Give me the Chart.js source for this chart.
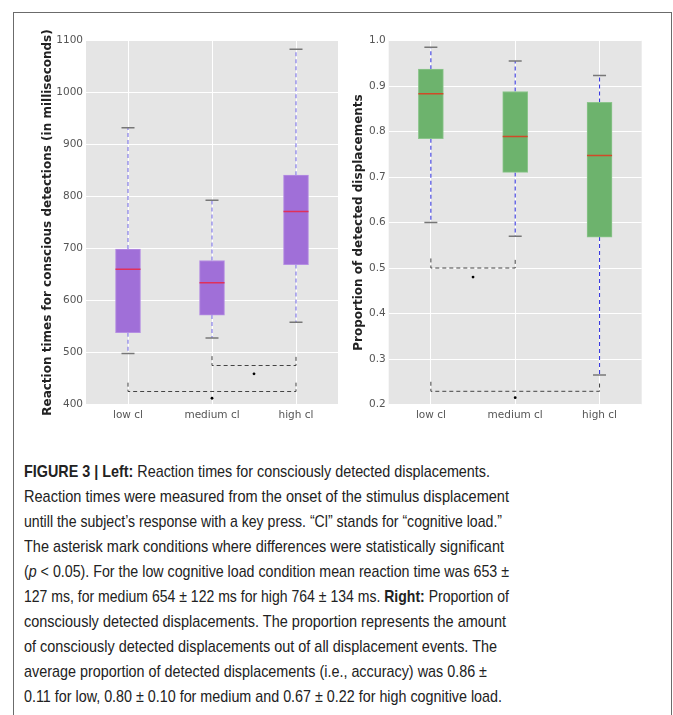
<!DOCTYPE html>
<html>
<head>
<meta charset="utf-8">
<script src="https://cdn.jsdelivr.net/npm/chart.js@4.4.0/dist/chart.umd.min.js"></script>
<style>
  html, body { margin: 0; padding: 0; background: #fff; }
  body { width: 673px; height: 715px; position: relative; overflow: hidden; }
  #frame {
    position: absolute; left: 13px; top: 12px; width: 657px; height: 720px;
    border: 1.5px solid #6b6b6b;
  }
  canvas { position: absolute; }
  #rtChart { left: 0; top: 20px; }
  #propChart { left: 345px; top: 20px; }
  #caption {
    position: absolute; left: 24px; top: 459px;
    font-family: "Liberation Sans", sans-serif;
    font-size: 17px; line-height: 25px; color: #222;
  }
  #caption div { white-space: nowrap; transform-origin: 0 0; width: max-content; }
</style>
</head>
<body>
<div id="frame"></div>
<canvas id="rtChart" width="352" height="410"></canvas>
<canvas id="propChart" width="328" height="410"></canvas>
<div id="caption">
  <div><b>FIGURE 3 | Left:</b> Reaction times for consciously detected displacements.</div>
  <div>Reaction times were measured from the onset of the stimulus displacement</div>
  <div>untill the subject’s response with a key press. “Cl” stands for “cognitive load.”</div>
  <div>The asterisk mark conditions where differences were statistically significant</div>
  <div>(<i>p</i> &lt; 0.05). For the low cognitive load condition mean reaction time was 653 ±</div>
  <div>127 ms, for medium 654 ± 122 ms for high 764 ± 134 ms. <b>Right:</b> Proportion of</div>
  <div>consciously detected displacements. The proportion represents the amount</div>
  <div>of consciously detected displacements out of all displacement events. The</div>
  <div>average proportion of detected displacements (i.e., accuracy) was 0.86 ±</div>
  <div>0.11 for low, 0.80 ± 0.10 for medium and 0.67 ± 0.22 for high cognitive load.</div>
</div>
<script>
// categories
const categories = ['low cl', 'medium cl', 'high cl'];

// left: reaction times (ms)
const rtMin    = [498, 528, 558];
const rtQ1     = [538, 572, 669];
const rtMedian = [660, 634, 771];
const rtQ3     = [699, 677, 841];
const rtMax    = [932, 793, 1083];
const rtTicks  = [400, 500, 600, 700, 800, 900, 1000, 1100];
const rtBrackets = [
  { from: 1, to: 2, y: 475, tip: 493 },
  { from: 0, to: 2, y: 425, tip: 442 }
];
const rtStars = [{ x: 1.5, y: 459 }, { x: 1, y: 412 }];

// right: proportion of detected displacements
const propMin    = [0.600, 0.570, 0.265];
const propQ1     = [0.784, 0.710, 0.568];
const propMedian = [0.883, 0.789, 0.747];
const propQ3     = [0.937, 0.888, 0.864];
const propMax    = [0.985, 0.955, 0.923];
const propTicks  = [0.2, 0.3, 0.4, 0.5, 0.6, 0.7, 0.8, 0.9, 1.0];
const propBrackets = [
  { from: 0, to: 1, y: 0.500, tip: 0.521 },
  { from: 0, to: 2, y: 0.229, tip: 0.250 }
];
const propStars = [{ x: 0.5, y: 0.480 }, { x: 1, y: 0.215 }];

// caption lines: right edge in the figure, to squeeze the text like the condensed original
const captionRight = [490, 509, 502, 504, 509, 509, 506, 497, 487, 502];
document.querySelectorAll('#caption div').forEach((el, i) => {
  const w = el.getBoundingClientRect().width;
  el.style.transform = 'scaleX(' + ((captionRight[i] - 24) / w) + ')';
});

// grey plot background (ggplot style)
const plotBackground = {
  id: 'plotBackground',
  beforeDraw(chart) {
    const a = chart.chartArea;
    const ctx = chart.ctx;
    ctx.save();
    ctx.fillStyle = '#e5e5e5';
    ctx.fillRect(a.left, a.top, a.right - a.left, a.bottom - a.top);
    ctx.restore();
  }
};

function makeBoxChart(id, d, st) {
  const whiskers = [];
  const caps = [];
  categories.forEach((c, i) => {
    whiskers.push({ x: i, y: d.q3[i] }, { x: i, y: d.max[i] }, { x: i, y: null });
    whiskers.push({ x: i, y: d.q1[i] }, { x: i, y: d.min[i] }, { x: i, y: null });
    caps.push({ x: i, y: d.max[i] }, { x: i, y: d.min[i] });
  });
  const bracketPts = [];
  d.brackets.forEach(b => {
    bracketPts.push({ x: b.from, y: b.tip }, { x: b.from, y: b.y }, { x: b.to, y: b.y }, { x: b.to, y: b.tip }, { x: b.to, y: null });
  });

  return new Chart(document.getElementById(id), {
    type: 'bar',
    data: {
      datasets: [
        {
          type: 'scatter', order: 0,
          data: categories.map((c, i) => ({ x: i, y: d.median[i] })),
          pointStyle: 'line', pointRadius: 12.5, pointHoverRadius: 12.5,
          borderColor: st.median, borderWidth: 1.5
        },
        {
          type: 'bar', order: 1,
          data: categories.map((c, i) => ({ x: i, y: [d.q1[i], d.q3[i]] })),
          backgroundColor: st.box, borderColor: st.boxEdge, borderWidth: 1,
          borderSkipped: false, barThickness: 25, grouped: false
        },
        {
          type: 'scatter', order: 2,
          data: caps,
          pointStyle: 'line', pointRadius: 6.5, pointHoverRadius: 6.5,
          borderColor: '#777', borderWidth: 1.5
        },
        {
          type: 'line', order: 3,
          data: whiskers, spanGaps: false,
          borderColor: st.whisker, borderWidth: 1.1, borderDash: [4, 3],
          pointRadius: 0, fill: false
        },
        {
          type: 'line', order: 3,
          data: bracketPts, spanGaps: false,
          borderColor: '#444', borderWidth: 1, borderDash: [4, 3],
          pointRadius: 0, fill: false
        },
        {
          type: 'scatter', order: 0,
          data: d.stars,
          pointRadius: 1.4, backgroundColor: '#000', borderWidth: 0
        }
      ]
    },
    options: {
      responsive: false,
      animation: false,
      events: [],
      layout: { padding: st.padding },
      plugins: { legend: { display: false }, tooltip: { enabled: false } },
      scales: {
        x: {
          type: 'linear', min: -0.5, max: 2.5, offset: false,
          afterBuildTicks: s => { s.ticks = categories.map((c, i) => ({ value: i })); },
          afterFit: s => { s.height = 25.5; },
          grid: { color: '#fff', lineWidth: 1, drawTicks: false, offset: false },
          border: { display: false },
          ticks: {
            padding: 4, color: '#555',
            font: { family: 'DejaVu Sans', size: 10.5 },
            callback: v => categories[v]
          }
        },
        y: {
          min: d.ticks[0], max: d.ticks[d.ticks.length - 1],
          afterBuildTicks: s => { s.ticks = d.ticks.map(v => ({ value: v })); },
          afterFit: s => { s.width = st.axisWidth; },
          grid: { color: '#fff', lineWidth: 1, drawTicks: false },
          border: { display: false },
          ticks: {
            padding: 3, color: '#555',
            font: { family: 'DejaVu Sans', size: 10.5 },
            callback: v => st.fmt(v)
          },
          title: {
            display: true, text: st.title, color: '#222',
            padding: { top: st.titlePad, bottom: 0 },
            font: { family: 'DejaVu Sans', size: 12, weight: 'bold' }
          }
        }
      }
    },
    plugins: [plotBackground]
  });
}

makeBoxChart('rtChart', {
  min: rtMin, q1: rtQ1, median: rtMedian, q3: rtQ3, max: rtMax,
  ticks: rtTicks, brackets: rtBrackets, stars: rtStars
}, {
  box: '#a06fd8', boxEdge: '#b58ee3', median: '#e0305a', whisker: '#7b72e8',
  title: 'Reaction times for conscious detections (in milliseconds)',
  titlePad: 40.8, axisWidth: 86,
  padding: { top: 20.5, right: 14, left: 0, bottom: 0 },
  fmt: v => String(v)
});

makeBoxChart('propChart', {
  min: propMin, q1: propQ1, median: propMedian, q3: propQ3, max: propMax,
  ticks: propTicks, brackets: propBrackets, stars: propStars
}, {
  box: '#6db36d', boxEdge: '#8cc58c', median: '#d04a28', whisker: '#3a3ae0',
  title: 'Proportion of detected displacements',
  titlePad: 6.8, axisWidth: 43.7,
  padding: { top: 20.5, right: 31.3, left: 0, bottom: 0 },
  fmt: v => v.toFixed(1)
});
</script>
</body>
</html>
